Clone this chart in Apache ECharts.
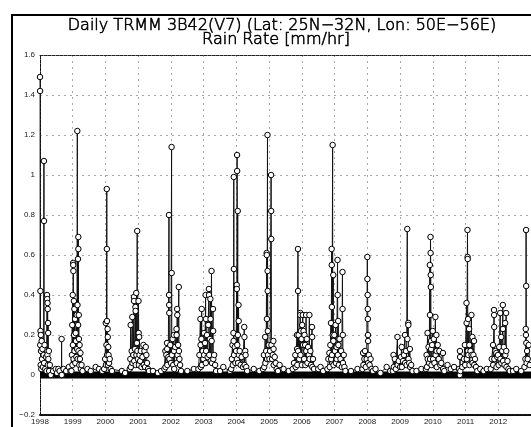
<!DOCTYPE html>
<html>
<head>
<meta charset="utf-8">
<script src="https://cdn.jsdelivr.net/npm/echarts@6/dist/echarts.min.js"></script>
<style>html,body{margin:0;padding:0;background:#fff}#c{width:531px;height:427px}</style>
</head>
<body>
<div id="c"></div>
<script>
// ---- chart text ----
const titleLine1 = 'Daily TRMM 3B42(V7) (Lat: 25N\u221232N, Lon: 50E\u221256E)';
const titleLine2 = 'Rain Rate [mm/hr]';
// ---- axes ----
const yearMin = 1998, yearMax = 2013, yearStep = 1;
const rateMin = -0.2, rateMax = 1.6, rateStep = 0.2;
const dryDayRate = 0;   // baseline of dry days (mm/hr)

// ---- daily rain rate, [decimal year, mm/hr], one array per wet season ----
const rain1998 = [[1998.000,1.49],[1998.003,1.42],[1998.006,0.15],[1998.012,0.42],[1998.016,0.22],[1998.020,0.05],[1998.025,0.20],[1998.030,0.12],[1998.040,0.03],[1998.050,0.17],[1998.060,0.08],[1998.075,0.13],[1998.090,0.04],[1998.110,0.10],[1998.120,1.07],[1998.123,0.77],[1998.126,0.06],[1998.140,0.15],[1998.160,0.03],[1998.180,0.09],[1998.200,0.02],[1998.215,0.40],[1998.220,0.38],[1998.225,0.10],[1998.230,0.36],[1998.235,0.33],[1998.240,0.05],[1998.245,0.26],[1998.250,0.21],[1998.255,0.08],[1998.270,0.12],[1998.280,0.02],[1998.300,0.05],[1998.330,0.00],[1998.400,0.02],[1998.480,0.03],[1998.520,0.01],[1998.560,0.03],[1998.600,0.02],[1998.655,0.00],[1998.660,0.18],[1998.665,0.00],[1998.720,0.03],[1998.800,0.02],[1998.880,0.04],[1998.930,0.02]];
const rain1999 = [[1998.960,0.02],[1998.975,0.10],[1998.985,0.25],[1998.990,0.05],[1999.000,0.40],[1999.005,0.15],[1999.012,0.56],[1999.015,0.55],[1999.020,0.52],[1999.025,0.08],[1999.035,0.37],[1999.040,0.20],[1999.050,0.33],[1999.055,0.12],[1999.070,0.28],[1999.080,0.06],[1999.090,0.21],[1999.100,0.17],[1999.110,0.09],[1999.120,0.30],[1999.130,0.13],[1999.140,1.22],[1999.145,0.35],[1999.150,0.08],[1999.160,0.58],[1999.165,0.25],[1999.170,0.69],[1999.172,0.63],[1999.176,0.12],[1999.185,0.30],[1999.190,0.18],[1999.200,0.05],[1999.210,0.15],[1999.220,0.08],[1999.235,0.11],[1999.250,0.03],[1999.270,0.05],[1999.300,0.02],[1999.450,0.03],[1999.550,0.02],[1999.700,0.04],[1999.800,0.03],[1999.900,0.02]];
const rain2000 = [[1999.960,0.03],[1999.990,0.08],[2000.010,0.26],[2000.015,0.05],[2000.030,0.15],[2000.040,0.93],[2000.043,0.63],[2000.046,0.27],[2000.050,0.10],[2000.065,0.23],[2000.070,0.19],[2000.075,0.05],[2000.085,0.14],[2000.095,0.10],[2000.110,0.06],[2000.130,0.08],[2000.160,0.03],[2000.200,0.02],[2000.500,0.02],[2000.600,0.01]];
const rain2001 = [[2000.740,0.03],[2000.760,0.08],[2000.770,0.25],[2000.775,0.04],[2000.800,0.12],[2000.820,0.29],[2000.825,0.06],[2000.850,0.10],[2000.870,0.39],[2000.873,0.37],[2000.878,0.07],[2000.900,0.13],[2000.915,0.34],[2000.920,0.32],[2000.925,0.05],[2000.940,0.41],[2000.945,0.10],[2000.960,0.16],[2000.970,0.72],[2000.975,0.12],[2000.990,0.08],[2001.010,0.37],[2001.015,0.21],[2001.020,0.05],[2001.030,0.19],[2001.040,0.10],[2001.060,0.07],[2001.080,0.12],[2001.100,0.04],[2001.130,0.09],[2001.160,0.15],[2001.170,0.05],[2001.190,0.12],[2001.210,0.04],[2001.230,0.14],[2001.250,0.10],[2001.270,0.06],[2001.300,0.03],[2001.330,0.02],[2001.450,0.02],[2001.600,0.01],[2001.700,0.02]];
const rain2002 = [[2001.800,0.03],[2001.830,0.12],[2001.835,0.04],[2001.860,0.10],[2001.880,0.16],[2001.885,0.13],[2001.890,0.05],[2001.920,0.09],[2001.940,0.80],[2001.943,0.40],[2001.946,0.35],[2001.950,0.31],[2001.955,0.08],[2001.980,0.15],[2002.000,0.06],[2002.020,1.14],[2002.023,0.51],[2002.027,0.10],[2002.050,0.18],[2002.070,0.05],[2002.090,0.20],[2002.095,0.12],[2002.100,0.03],[2002.130,0.14],[2002.170,0.23],[2002.173,0.20],[2002.178,0.06],[2002.190,0.33],[2002.195,0.30],[2002.200,0.10],[2002.220,0.15],[2002.240,0.44],[2002.245,0.12],[2002.260,0.08],[2002.280,0.05],[2002.310,0.02],[2002.500,0.02],[2002.700,0.03]];
const rain2003 = [[2002.840,0.03],[2002.870,0.10],[2002.900,0.28],[2002.905,0.15],[2002.910,0.04],[2002.930,0.18],[2002.940,0.33],[2002.945,0.05],[2002.970,0.12],[2002.990,0.08],[2003.010,0.21],[2003.015,0.10],[2003.040,0.16],[2003.060,0.40],[2003.065,0.06],[2003.070,0.28],[2003.075,0.12],[2003.100,0.20],[2003.120,0.09],[2003.140,0.25],[2003.160,0.43],[2003.163,0.40],[2003.170,0.10],[2003.190,0.18],[2003.205,0.38],[2003.210,0.28],[2003.215,0.07],[2003.240,0.52],[2003.245,0.17],[2003.255,0.06],[2003.285,0.33],[2003.290,0.22],[2003.295,0.08],[2003.320,0.10],[2003.350,0.05],[2003.380,0.02],[2003.500,0.02],[2003.600,0.04],[2003.800,0.02]];
const rain2004 = [[2003.840,0.03],[2003.860,0.08],[2003.880,0.15],[2003.890,0.05],[2003.910,0.21],[2003.915,0.17],[2003.920,0.99],[2003.923,0.53],[2003.927,0.10],[2003.950,0.14],[2003.970,0.06],[2003.990,0.12],[2004.010,0.45],[2004.013,0.43],[2004.017,0.08],[2004.020,1.10],[2004.023,1.02],[2004.027,0.15],[2004.040,0.82],[2004.045,0.20],[2004.050,0.06],[2004.065,0.35],[2004.070,0.27],[2004.075,0.10],[2004.100,0.12],[2004.130,0.05],[2004.160,0.09],[2004.200,0.04],[2004.240,0.24],[2004.245,0.19],[2004.250,0.05],[2004.270,0.12],[2004.280,0.10],[2004.300,0.04],[2004.330,0.02],[2004.530,0.03],[2004.700,0.02]];
const rain2005 = [[2004.810,0.03],[2004.840,0.10],[2004.850,0.04],[2004.880,0.19],[2004.885,0.06],[2004.910,0.12],[2004.925,0.61],[2004.928,0.60],[2004.932,0.28],[2004.936,0.08],[2004.950,1.20],[2004.953,0.52],[2004.956,0.42],[2004.960,0.22],[2004.965,0.10],[2004.990,0.15],[2005.010,0.08],[2005.030,0.12],[2005.060,1.00],[2005.063,0.82],[2005.066,0.68],[2005.070,0.15],[2005.090,0.08],[2005.110,0.10],[2005.130,0.17],[2005.135,0.13],[2005.140,0.05],[2005.170,0.09],[2005.200,0.06],[2005.230,0.03],[2005.270,0.02],[2005.320,0.05],[2005.440,0.03],[2005.600,0.02]];
const rain2006 = [[2005.720,0.03],[2005.760,0.06],[2005.800,0.10],[2005.810,0.04],[2005.850,0.20],[2005.855,0.13],[2005.860,0.05],[2005.880,0.63],[2005.883,0.42],[2005.887,0.12],[2005.900,0.20],[2005.920,0.08],[2005.950,0.31],[2005.953,0.30],[2005.957,0.10],[2005.970,0.22],[2005.990,0.18],[2006.000,0.05],[2006.010,0.25],[2006.030,0.30],[2006.035,0.15],[2006.050,0.22],[2006.070,0.08],[2006.080,0.20],[2006.100,0.15],[2006.105,0.05],[2006.130,0.30],[2006.135,0.12],[2006.150,0.18],[2006.170,0.06],[2006.190,0.14],[2006.210,0.10],[2006.230,0.30],[2006.235,0.08],[2006.260,0.12],[2006.280,0.05],[2006.310,0.24],[2006.315,0.19],[2006.320,0.04],[2006.340,0.08],[2006.370,0.03],[2006.500,0.03],[2006.570,0.04],[2006.650,0.02]];
const rain2007 = [[2006.780,0.03],[2006.810,0.08],[2006.840,0.11],[2006.850,0.04],[2006.870,0.15],[2006.890,0.26],[2006.895,0.08],[2006.910,0.63],[2006.913,0.55],[2006.916,0.34],[2006.920,0.10],[2006.940,1.15],[2006.943,0.20],[2006.960,0.50],[2006.963,0.17],[2006.968,0.05],[2006.990,0.20],[2007.010,0.12],[2007.030,0.25],[2007.040,0.06],[2007.060,0.14],[2007.065,0.08],[2007.090,0.575],[2007.093,0.40],[2007.097,0.10],[2007.110,0.27],[2007.115,0.15],[2007.130,0.05],[2007.150,0.18],[2007.180,0.08],[2007.200,0.12],[2007.220,0.04],[2007.240,0.515],[2007.243,0.33],[2007.250,0.20],[2007.255,0.06],[2007.280,0.10],[2007.300,0.04],[2007.330,0.02],[2007.500,0.02],[2007.700,0.03]];
const rain2008 = [[2007.850,0.03],[2007.870,0.11],[2007.880,0.05],[2007.910,0.08],[2007.930,0.12],[2007.950,0.04],[2007.980,0.08],[2008.000,0.59],[2008.003,0.48],[2008.010,0.40],[2008.013,0.33],[2008.016,0.28],[2008.020,0.20],[2008.023,0.17],[2008.028,0.06],[2008.045,0.10],[2008.070,0.05],[2008.100,0.08],[2008.130,0.03],[2008.170,0.02],[2008.250,0.03],[2008.400,0.01],[2008.590,0.04],[2008.700,0.02]];
const rain2009 = [[2008.780,0.02],[2008.800,0.10],[2008.810,0.04],[2008.840,0.08],[2008.870,0.03],[2008.920,0.19],[2008.925,0.05],[2008.960,0.07],[2009.000,0.04],[2009.030,0.09],[2009.050,0.14],[2009.055,0.04],[2009.090,0.07],[2009.120,0.10],[2009.150,0.20],[2009.155,0.06],[2009.180,0.12],[2009.200,0.05],[2009.220,0.73],[2009.225,0.18],[2009.250,0.26],[2009.253,0.25],[2009.258,0.08],[2009.280,0.06],[2009.300,0.13],[2009.305,0.04],[2009.340,0.05],[2009.380,0.02],[2009.500,0.02],[2009.650,0.03]];
const rain2010 = [[2009.790,0.03],[2009.810,0.10],[2009.820,0.04],[2009.840,0.21],[2009.845,0.08],[2009.870,0.14],[2009.890,0.06],[2009.910,0.55],[2009.913,0.30],[2009.917,0.08],[2009.930,0.69],[2009.933,0.61],[2009.937,0.50],[2009.940,0.44],[2009.945,0.17],[2009.950,0.13],[2009.960,0.05],[2009.980,0.15],[2010.000,0.22],[2010.010,0.08],[2010.030,0.18],[2010.050,0.06],[2010.080,0.29],[2010.085,0.10],[2010.110,0.20],[2010.115,0.12],[2010.120,0.04],[2010.150,0.15],[2010.180,0.08],[2010.200,0.12],[2010.230,0.05],[2010.260,0.06],[2010.310,0.11],[2010.315,0.03],[2010.350,0.02],[2010.450,0.05],[2010.550,0.03],[2010.650,0.04]];
const rain2011 = [[2010.800,0.03],[2010.825,0.00],[2010.830,0.12],[2010.833,0.09],[2010.840,0.02],[2010.900,0.04],[2010.950,0.08],[2010.980,0.15],[2010.990,0.05],[2011.030,0.36],[2011.033,0.26],[2011.038,0.08],[2011.060,0.725],[2011.063,0.59],[2011.066,0.58],[2011.070,0.12],[2011.080,0.28],[2011.085,0.10],[2011.110,0.23],[2011.115,0.15],[2011.120,0.05],[2011.150,0.12],[2011.180,0.30],[2011.185,0.10],[2011.210,0.19],[2011.215,0.06],[2011.240,0.10],[2011.260,0.17],[2011.265,0.05],[2011.290,0.08],[2011.320,0.04],[2011.360,0.02],[2011.450,0.03],[2011.550,0.02],[2011.650,0.03]];
const rain2012 = [[2011.770,0.03],[2011.800,0.08],[2011.840,0.15],[2011.845,0.05],[2011.870,0.325],[2011.873,0.30],[2011.877,0.24],[2011.880,0.08],[2011.910,0.12],[2011.940,0.11],[2011.945,0.04],[2011.970,0.09],[2011.990,0.10],[2012.010,0.05],[2012.030,0.14],[2012.060,0.31],[2012.065,0.08],[2012.090,0.19],[2012.095,0.06],[2012.120,0.12],[2012.140,0.35],[2012.143,0.23],[2012.148,0.07],[2012.170,0.14],[2012.190,0.05],[2012.210,0.26],[2012.215,0.10],[2012.240,0.31],[2012.245,0.12],[2012.250,0.04],[2012.280,0.07],[2012.310,0.03],[2012.350,0.02],[2012.450,0.02],[2012.550,0.03],[2012.700,0.02]];
const rain2013 = [[2012.800,0.04],[2012.830,0.08],[2012.840,0.23],[2012.845,0.20],[2012.850,0.725],[2012.853,0.445],[2012.857,0.16],[2012.865,0.06],[2012.880,0.12],[2012.900,0.08],[2012.930,0.15],[2012.960,0.05]];

const dailyRain = [].concat(rain1998, rain1999, rain2000, rain2001, rain2002, rain2003, rain2004,
  rain2005, rain2006, rain2007, rain2008, rain2009, rain2010, rain2011, rain2012, rain2013);

const chart = echarts.init(document.getElementById('c'), null, {renderer: 'canvas'});
const axisFont = 'Liberation Sans';
const titleStyle = {fill: '#000', stroke: '#000', lineWidth: 0.6,
  font: '200 16px "DejaVu Sans"', textAlign: 'center', textVerticalAlign: 'middle'};
chart.setOption({
  animation: false,
  backgroundColor: '#fff',
  grid: {left: 40, right: -3, top: 55, bottom: 12, containLabel: false},
  graphic: [
    {type: 'rect', shape: {x: 12, y: 15, width: 600, height: 500},
     style: {fill: 'none', stroke: '#000', lineWidth: 2}, silent: true},
    {type: 'text', x: 282, y: 26, style: Object.assign({text: titleLine1}, titleStyle)},
    {type: 'text', x: 276, y: 39.5, style: Object.assign({text: titleLine2}, titleStyle)}
  ],
  xAxis: [{
    type: 'value', min: yearMin, max: yearMax, interval: yearStep,
    axisLine: {onZero: false, lineStyle: {color: '#111', width: 2, type: [3, 1]}},
    axisTick: {show: false},
    axisLabel: {fontSize: 8, fontFamily: axisFont, color: '#222', margin: 3, showMaxLabel: false,
      formatter: v => String(v)},
    splitLine: {show: true, lineStyle: {color: '#a8a8a8', width: 1, type: [2, 4]}}
  }, {
    type: 'value', position: 'top', min: yearMin, max: yearMax, interval: yearStep,
    axisLine: {show: true, onZero: false, lineStyle: {color: '#222', width: 1, type: [3, 1]}},
    axisTick: {show: false}, axisLabel: {show: false}, splitLine: {show: false}
  }],
  yAxis: {
    type: 'value', min: rateMin, max: rateMax, interval: rateStep,
    axisLine: {show: true, onZero: false, lineStyle: {color: '#111', width: 1, type: [3, 1]}},
    axisTick: {show: false},
    axisLabel: {fontSize: 8, fontFamily: axisFont, color: '#222', margin: 5,
      formatter: v => String(Math.round(v * 10) / 10).replace('-', '\u2212')},
    splitLine: {show: true, lineStyle: {color: '#a8a8a8', width: 1, type: [2, 4]}}
  },
  series: [{
    name: 'dry days', type: 'line', z: 1,
    data: [[yearMin, dryDayRate], [yearMax, dryDayRate]],
    symbol: 'none', lineStyle: {color: '#000', width: 7}, silent: true
  }, {
    name: 'rain rate', type: 'line', z: 2, data: dailyRain, clip: false,
    symbol: 'circle', symbolSize: 5.5,
    itemStyle: {color: '#fff', borderColor: '#000', borderWidth: 1},
    lineStyle: {color: '#111', width: 1}
  }]
});
</script>
</body>
</html>
